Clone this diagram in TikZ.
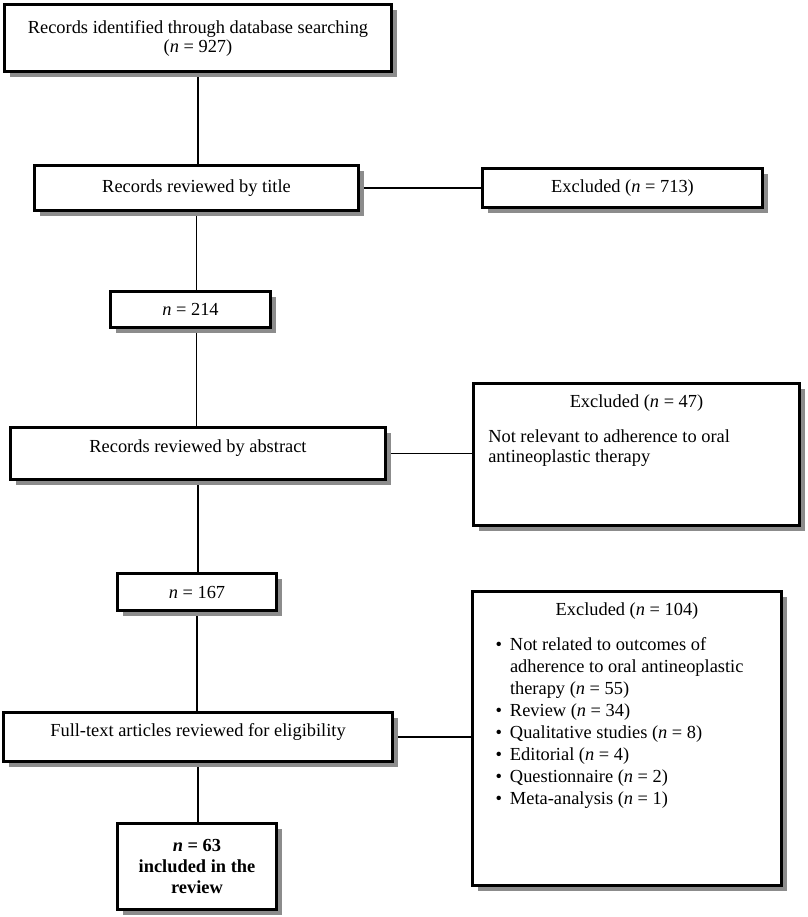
\documentclass[tikz,border=0pt]{standalone}
\usepackage{fontspec}
\setmainfont{Liberation Serif}
\usetikzlibrary{shadows, backgrounds}
\definecolor{prgray}{RGB}{140,140,140}
\newcommand{\exitem}{\leavevmode\llap{\textbullet\hspace{8pt}}}

\begin{document}
\begin{tikzpicture}[x=1pt, y=-1pt, font=\fontsize{18.4}{22}\selectfont]
\tikzstyle{stage} = [rectangle, draw=black, line width=2.8pt, fill=white, inner sep=0pt, align=center, drop shadow={shadow xshift=5.5pt, shadow yshift=-5.5pt, fill=prgray, opacity=1}]
\tikzstyle{link} = [line width=1.4pt]
\useasboundingbox (0,0) rectangle (807,917);

% Main stream
\node[stage, minimum width=387.4pt, minimum height=67.4pt] (found) at (198,38) {Records identified through database searching\\[-3pt](\textit{n} = 927)};
\node[stage, minimum width=324.4pt, minimum height=45.4pt] (title) at (196.5,188) {Records reviewed by title};
\node[stage, minimum width=160.4pt, minimum height=36.4pt] (screened) at (190.5,309.5) {\textit{n} = 214};
\node[stage, minimum width=375.4pt, minimum height=52.4pt, text height=12pt, text depth=14pt] (abstract) at (198,453.5) {Records reviewed by abstract};
\node[stage, minimum width=159.4pt, minimum height=37.4pt] (eligible) at (197,592) {\textit{n} = 167};
\node[stage, minimum width=389.4pt, minimum height=49.4pt, text height=12pt, text depth=13pt] (fulltext) at (198,737) {Full-text articles reviewed for eligibility};
\node[stage, minimum width=159.4pt, minimum height=86.4pt, font=\fontsize{18.4}{22}\selectfont\bfseries] (included) at (197,866.5) {\textit{n} = 63\\[-1pt]included in the\\[-1pt]review};

% Exclusions
\node[stage, minimum width=280.4pt, minimum height=39.4pt] (excltitle) at (622.5,188) {Excluded (\textit{n} = 713)};
\node[stage] (exclabs) at (636.5,454.5) {\parbox[c][142.4pt][t]{326.4pt}{\centering\rule{0pt}{24pt}Excluded (\textit{n} = 47)\par\vspace{13pt}
\leftskip=15pt\rightskip=0pt plus 1fil\relax Not relevant to adherence to oral\\[-2pt]antineoplastic therapy\par}};
\node[stage] (exclfull) at (627,738.5) {\parbox[c][294.4pt][t]{309.4pt}{\centering\rule{0pt}{24pt}Excluded (\textit{n} = 104)\par\vspace{13pt}
\leftskip=37.7pt\rightskip=0pt plus 1fil\relax
\exitem Not related to outcomes of\\adherence to oral antineoplastic\\therapy (\textit{n} = 55)\\
\exitem Review (\textit{n} = 34)\\
\exitem Qualitative studies (\textit{n} = 8)\\
\exitem Editorial (\textit{n} = 4)\\
\exitem Questionnaire (\textit{n} = 2)\\
\exitem Meta-analysis (\textit{n} = 1)\par}};

% Lines
\begin{scope}[on background layer]
\draw[link] (found.south) -- (found.south |- title.north);
\draw[link] (title.south) -- (title.south |- screened.north);
\draw[link] (screened.south -| title.south) -- (title.south |- abstract.north);
\draw[link] (abstract.south) -- (abstract.south |- eligible.north);
\draw[link] (eligible.south) -- (eligible.south |- fulltext.north);
\draw[link] (fulltext.south) -- (fulltext.south |- included.north);
\draw[link] (title) -- (excltitle);
\draw[link] (abstract.east) -- (abstract.east -| exclabs.west);
\draw[link] (fulltext.east) -- (fulltext.east -| exclfull.west);
\end{scope}
\end{tikzpicture}
\end{document}
